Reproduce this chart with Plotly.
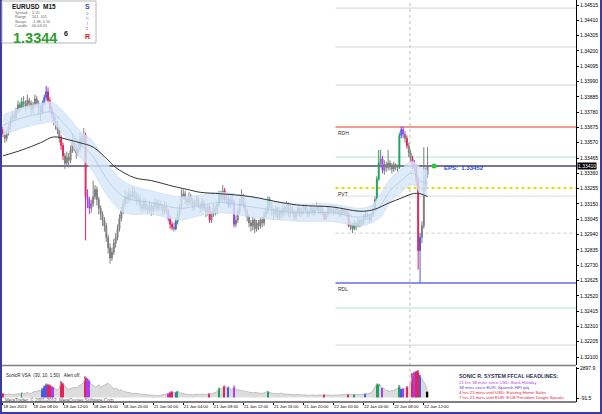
import plotly.graph_objects as go

# ---------------- DATA (prices in pips above BASE) ----------------
BASE = 1.3200
PIP = 0.0001

time_labels = ["18 Jan 2013", "18 Jan 08:00", "18 Jan 12:00", "18 Jan 16:00", "18 Jan 20:00",
               "21 Jan 00:00", "21 Jan 04:00", "21 Jan 08:00", "21 Jan 12:00", "21 Jan 16:00",
               "21 Jan 20:00", "22 Jan 00:00", "22 Jan 04:00", "22 Jan 08:00", "22 Jan 12:00"]
time_label_bars = [0, 16, 32, 48, 64, 80, 96, 112, 128, 144, 160, 176, 192, 208, 224]

open_pips = [166,163,160,164,168,172,176,174,179,183, 181,185,184,182,186,184,180,183,187,184,
             181,178,184,188,192,186,180,176,172,170, 166,160,155,148,143,147,145,152,158,154,
             150,153,160,158,162,120,118,112,115,120, 125,118,112,108,104,100,92,85,78,82,
             88,92,98,105,110,115,120,118,122,120, 124,121,117,119,114,112,116,113,111,114,
             110,113,116,112,115,113,110,114,110,105, 101,99,98,103,108,113,120,122,118,116,
             120,117,113,116,118,114,112,116,112,109, 113,104,108,112,110,115,122,118,124,118,
             119,114,118,116,101,104,110,116,120,114, 110,106,102,100,104,98,102,100,104,102,
             108,110,118,114,110,108,112,106,110,108, 112,110,114,108,112,110,106,109,112,108,
             110,113,111,108,110,112,109,111,113,110, 112,109,105,108,112,110,111,109,112,110,
             108,111,109,110,108,100,101,98,102,100, 104,101,103,106,108,106,104,107,112,118,
             132,143,146,138,142,140,143,141,139,142, 140,140,162,166,163,160,155,150,146,142,
             140,131,83,92,100,126,135]
high_pips = [168,165,166,170,175,178,179,181,186,185, 188,189,186,190,188,186,185,190,189,186,
             183,186,190,196,195,188,182,178,175,172, 168,162,157,150,151,150,155,163,160,156,
             157,164,163,167,164,125,120,118,131,128, 127,120,114,110,106,102,94,88,85,91,
             95,101,108,113,118,124,123,126,124,127, 126,123,122,121,116,119,118,115,117,116,
             116,119,118,118,117,115,117,116,112,107, 103,102,105,110,115,125,125,124,120,123,
             122,119,118,121,120,116,119,118,114,115, 114,110,115,114,117,124,124,128,126,122,
             121,120,121,118,107,112,119,125,122,116, 112,108,104,106,105,104,104,106,106,110,
             113,120,120,116,112,114,113,113,112,115, 114,117,116,114,114,111,111,114,113,112,
             115,115,112,112,114,113,113,116,114,114, 113,110,110,114,113,113,112,114,113,111,
             113,112,112,112,109,103,102,104,103,106, 105,105,108,110,109,108,109,114,120,134,
             152,152,148,145,144,152,145,143,144,143, 142,164,168,168,165,162,157,152,148,145,
             142,133,95,103,154,140,154]
low_pips = [161,157,158,162,166,171,172,173,177,178, 180,181,178,180,181,176,177,181,182,176,
            172,177,183,186,184,178,174,169,166,163, 157,152,145,139,141,140,143,150,151,146,
            148,151,154,156,90,112,108,109,113,118, 114,108,104,100,96,89,81,74,76,80,
            85,90,96,103,108,113,115,116,117,118, 118,114,115,111,109,110,110,108,109,107,
            108,111,110,110,111,107,108,108,103,98, 97,96,97,101,106,111,118,115,113,114,
            114,110,111,114,112,109,110,110,106,107, 102,102,106,107,108,113,116,116,116,115,
            112,112,114,99,99,102,108,114,112,107, 103,99,96,97,95,96,97,98,99,100,
            106,108,112,107,104,106,104,104,105,106, 107,108,106,106,108,104,104,107,106,106,
            108,109,106,106,108,107,107,110,108,108, 107,104,104,106,108,108,107,108,108,106,
            106,107,107,106,99,97,95,97,97,99, 99,100,101,104,104,102,103,106,111,117,
            131,140,136,135,137,138,138,136,137,138, 137,139,160,160,157,153,147,143,139,137,
            128,70,61,88,98,124,133]
close_pips = [163,160,164,168,172,176,174,179,183,181, 185,184,182,186,184,180,183,187,184,181,
              178,184,188,192,186,180,176,172,170,166, 160,155,148,143,147,145,152,158,154,150,
              153,160,158,162,120,118,112,115,120,125, 118,112,108,104,100,92,85,78,82,88,
              92,98,105,110,115,120,118,122,120,124, 121,117,119,114,112,116,113,111,114,110,
              113,116,112,115,113,110,114,110,105,101, 99,98,103,108,113,120,122,118,116,120,
              117,113,116,118,114,112,116,112,109,113, 104,108,112,110,115,122,118,124,118,119,
              114,118,116,101,104,110,116,120,114,110, 106,102,100,104,98,102,100,104,102,108,
              110,118,114,110,108,112,106,110,108,112, 110,114,108,112,110,106,109,112,108,110,
              113,111,108,110,112,109,111,113,110,112, 109,105,108,112,110,111,109,112,110,108,
              111,109,110,108,100,101,98,102,100,104, 101,103,106,108,106,104,107,112,118,132,
              143,146,138,142,140,143,141,139,142,140, 140,162,166,163,160,155,150,146,142,140,
              131,83,92,100,126,135,141]
tick_volume = [420,300,280,350,330,260,300,310,380,350, 450,380,420,480,400,380,520,600,560,700,
               650,900,1150,1350,1300,1250,1100,1000,800,750, 900,1600,1400,1100,900,800,850,900,1000,950,
               1050,1200,1300,1500,2050,1900,1700,1300,1200,1000, 1100,1250,1000,1100,1200,1350,1400,1200,1000,850,
               900,800,700,750,600,550,500,520,450,400, 380,420,350,300,320,280,300,260,240,220,
               180,150,200,180,220,250,300,350,420,550, 600,450,500,620,450,400,380,350,300,280,
               260,240,300,280,250,300,320,280,300,350, 400,380,420,500,550,950,800,1000,1150,900,
               1050,850,700,1150,800,750,700,650,600,550, 500,520,480,450,500,460,420,400,380,450,
               500,620,480,420,380,400,350,380,420,360, 340,320,300,330,280,260,300,280,250,240,
               220,260,240,200,220,250,230,210,260,240, 220,300,250,220,240,210,230,200,220,250,
               270,240,260,300,350,300,280,320,300,280, 260,300,320,380,350,400,450,700,1000,1350,
               1300,1100,950,850,700,650,600,700,650,800, 900,1200,850,900,800,1100,950,1300,2400,2500,
               2600,2700,2200,1800,1500,1200,580]

# VSA signal bars
vsa_red = [0, 24, 25, 31, 32, 44, 89, 90, 110, 118, 171, 184, 215, 218, 220, 221]
vsa_blue = [21, 22, 23, 92, 120, 193, 212, 222]
vsa_green = [10, 93, 115, 141, 187, 199, 200, 211]
vsa_purple = [26, 27, 45, 46, 88, 123, 202, 213, 219]

# Sonic R dragon (EMA34 high / close / low) and slow MA, sampled
dragon_idx = [0, 10, 20, 26, 31, 36, 41, 47, 52, 57, 63, 68, 79, 89, 95, 105, 116, 132, 148, 159,
              175, 190, 196, 201, 206, 212, 217, 220, 222, 226]
dragon_mid = [169, 174, 177, 178, 172, 165, 156, 149, 139, 129, 121, 118, 116, 113, 112, 114, 116, 113, 110, 109,
              109, 106, 108, 114, 124, 131, 136, 135, 131, 129]
dragon_half = [7, 7, 7, 7, 8, 8, 9, 10, 11, 11, 11, 10, 8, 8, 8, 7, 7, 7, 6, 6,
               6, 6, 6, 8, 8, 8, 8, 8, 9, 9]
ma_idx = [0, 10, 20, 27, 35, 41, 48, 56, 60, 70, 79, 91, 98, 105, 116, 132, 148, 159, 175, 190,
          197, 206, 212, 218, 222, 226]
ma_val = [148, 152, 157, 161, 159, 157, 154, 145, 140, 133, 131, 127, 125, 123, 122, 120, 116, 114, 113, 110,
          111, 116, 119, 122, 122, 120]

# daily levels (price)
level_prices = [1.34494, 1.34227, 1.33966, 1.33678, 1.33472, 1.33259, 1.33204, 1.32950, 1.32607, 1.32436, 1.32182]
level_names = ["", "", "", "RDH", "", "PVT", "", "", "RDL", "", ""]
level_start_bar = 177

bid_price = 1.33410
eps_price = "1.33452"
price_ticks = [round(1.32100 + k * 0.00105, 5) for k in range(24)]

headline_title = "SONIC R. SYSTEM FFCAL HEADLINES:"
headlines = ["21 hrs 38 mins since USD: Bank Holiday",
             "38 mins since EUR: Spanish HPI q/q",
             "4 hrs 21 mins until USD: Existing Home Sales",
             "7 hrs 21 mins until EUR: ECB President Draghi Speaks"]
headline_colors = ["#b83fd0", "#6a35e0", "#e8203a", "#e8203a"]

# ---------------- LAYOUT HELPERS ----------------
W, H = 602, 414
ML, MR, MT, MB = 2, 26, 0, 12
PW, PH = W - ML - MR, H - MT - MB
def fx(x):
    return (x - ML) / PW
def fy(y):
    return (H - MB - y) / PH

FONT = "Liberation Sans, Arial, sans-serif"
def P(v):
    return BASE + v * PIP

n = len(close_pips)
idx = list(range(n))

fig = go.Figure()

# dragon band
d_lo = [P(m - h) for m, h in zip(dragon_mid, dragon_half)]
d_hi = [P(m + h) for m, h in zip(dragon_mid, dragon_half)]
fig.add_trace(go.Scatter(x=dragon_idx, y=d_lo, mode="lines", line=dict(color="#c4dbf3", width=0.6, shape="spline"),
                         hoverinfo="skip", showlegend=False))
fig.add_trace(go.Scatter(x=dragon_idx, y=d_hi, mode="lines", line=dict(color="#c4dbf3", width=0.6, shape="spline"),
                         fill="tonexty", fillcolor="rgba(212,230,250,0.8)", hoverinfo="skip", showlegend=False))
fig.add_trace(go.Scatter(x=dragon_idx, y=[P(m) for m in dragon_mid], mode="lines",
                         line=dict(color="#a9c4e0", width=0.7, shape="spline"), hoverinfo="skip", showlegend=False))
fig.add_trace(go.Scatter(x=ma_idx, y=[P(m) for m in ma_val], mode="lines",
                         line=dict(color="#333333", width=1, shape="spline"), hoverinfo="skip", showlegend=False))

# candles by colour group
special = set(vsa_red + vsa_blue + vsa_green + vsa_purple)
groups = [([i for i in idx if i not in special], "#7e7e7e"),
          (vsa_red, "#e3245a"), (vsa_blue, "#4a5be3"), (vsa_green, "#1fa060"), (vsa_purple, "#a93cf5")]
for members, col in groups:
    fig.add_trace(go.Candlestick(
        x=members,
        open=[P(open_pips[i]) for i in members], high=[P(high_pips[i]) for i in members],
        low=[P(low_pips[i]) for i in members], close=[P(close_pips[i]) for i in members],
        increasing=dict(line=dict(color=col, width=1), fillcolor=col),
        decreasing=dict(line=dict(color=col, width=1), fillcolor=col),
        whiskerwidth=0, hoverinfo="skip", showlegend=False, xaxis="x", yaxis="y"))

# EPS dot
fig.add_trace(go.Scatter(x=[229.5], y=[bid_price], mode="markers",
                         marker=dict(color="#22cc33", size=5), showlegend=False, hoverinfo="skip"))

# volume
vcol = []
for i in idx:
    if i == n - 1:
        vcol.append("#000000")
    elif i in vsa_red:
        vcol.append("#e3245a")
    elif i in vsa_blue:
        vcol.append("#4a5be3")
    elif i in vsa_green:
        vcol.append("#1fa060")
    elif i in vsa_purple:
        vcol.append("#a93cf5")
    else:
        vcol.append("#dcdcdc")
fig.add_trace(go.Bar(x=idx, y=tick_volume, marker=dict(color=vcol, line=dict(width=0)),
                     xaxis="x", yaxis="y2", showlegend=False, hoverinfo="skip"))
fig.add_trace(go.Scatter(x=idx, y=tick_volume, mode="lines", line=dict(color="#b4b4b4", width=0.8),
                         xaxis="x", yaxis="y2", showlegend=False, hoverinfo="skip"))

shapes = []
# level lines
level_styles = {
    0: ("#d4d4d4", 1, "solid"), 1: ("#d4d4d4", 1, "solid"), 2: ("#d4d4d4", 1, "solid"),
    3: ("#f07a6a", 1.5, "solid"), 4: ("#aee6cc", 1, "solid"), 5: ("#e6e000", 2, "dot"),
    6: ("#dcdcdc", 1, "solid"), 7: ("#c8c8dc", 1, "dot"), 8: ("#8f90ee", 2, "solid"),
    9: ("#aee6cc", 1, "solid"), 10: ("#d4d4d4", 1, "solid")}
for k, lp in enumerate(level_prices):
    c, w, d = level_styles[k]
    shapes.append(dict(type="line", xref="x", yref="y", x0=level_start_bar, x1=305, y0=lp, y1=lp,
                       line=dict(color=c, width=w, dash=d), layer="below"))
# bid line
shapes.append(dict(type="line", xref="paper", yref="y", x0=0, x1=1, y0=bid_price, y1=bid_price,
                   line=dict(color="#4b4b72", width=1.6), layer="below"))
# vertical separator
shapes.append(dict(type="line", xref="x", yref="paper", x0=216.6, x1=216.6, y0=0, y1=1,
                   line=dict(color="#bbbbbb", width=1, dash="dot"), layer="below"))
# panel separator and frame
shapes.append(dict(type="line", xref="paper", yref="paper", x0=0, x1=1, y0=fy(365.5), y1=fy(365.5),
                   line=dict(color="#808080", width=1.5)))
shapes.append(dict(type="line", xref="paper", yref="paper", x0=0, x1=1, y0=fy(402), y1=fy(402),
                   line=dict(color="#000000", width=1)))
shapes.append(dict(type="line", xref="paper", yref="paper", x0=fx(1), x1=fx(1), y0=fy(414), y1=fy(0),
                   line=dict(color="#3a3aa0", width=2)))
shapes.append(dict(type="line", xref="paper", yref="paper", x0=fx(0), x1=fx(602), y0=fy(413), y1=fy(413),
                   line=dict(color="#3a3aa0", width=2)))
shapes.append(dict(type="line", xref="paper", yref="paper", x0=fx(601), x1=fx(601), y0=fy(414), y1=fy(0),
                   line=dict(color="#3a3aa0", width=2)))
# info box
shapes.append(dict(type="rect", xref="paper", yref="paper", x0=fx(2), x1=fx(96), y0=fy(43), y1=fy(1),
                   fillcolor="white", line=dict(color="#b8b8b8", width=1)))

ann = []
def A(x, y, text, size=5, color="#000000", bold=False, xanchor="left", **kw):
    t = "<b>%s</b>" % text if bold else text
    d = dict(xref="paper", yref="paper", x=fx(x), y=fy(y), text=t, showarrow=False,
             xanchor=xanchor, yanchor="middle", font=dict(family=FONT, size=size, color=color))
    d.update(kw)
    ann.append(d)

# info panel
A(10, 6.5, "EURUSD&nbsp;&nbsp;M15", 6.5, "#111111", True)
for j, (lab, val) in enumerate([("Spread", "1.50"), ("Range", "101, 105"), ("Swaps", "-1.38, 0.50"), ("Candle", "00:04:20")]):
    A(13, 13 + j * 4.3, lab, 3.8, "#666666")
    A(30, 13 + j * 4.3, val, 3.8, "#666666")
A(11, 37.5, "1.3344", 14.5, "#2e9e2e", True)
A(62, 34, "6", 7, "#111111", True)
for ch, yy, col, sz, b in [("S", 6, "#3a48d8", 7, True), ("o", 14, "#7a8ad8", 4.5, False),
                           ("n", 19, "#7a8ad8", 4.5, False), ("i", 24, "#c060a0", 4.5, False),
                           ("c", 29, "#d04080", 4.5, False), ("R", 37, "#e02020", 7, True)]:
    A(87, yy, ch, sz, col, b, xanchor="center")

# level labels
for lp, name in zip(level_prices, level_names):
    if name:
        ann.append(dict(xref="x", yref="y", x=level_start_bar, y=lp, text=name, showarrow=False,
                        xanchor="left", yanchor="top", yshift=-1,
                        font=dict(family=FONT, size=5, color="#333333")))
# EPS label
ann.append(dict(xref="x", yref="y", x=233.5, y=bid_price, text="<b>EPS:&nbsp;&nbsp;%s</b>" % eps_price,
                showarrow=False, xanchor="left", yanchor="middle", yshift=-2,
                font=dict(family=FONT, size=6, color="#2a44d8")))
# bid label on axis
ann.append(dict(xref="paper", yref="y", x=fx(577), y=bid_price, text="1.33410", showarrow=False,
                xanchor="left", yanchor="middle", bgcolor="#000000", borderpad=0,
                font=dict(family=FONT, size=5, color="#ffffff")))
# indicator / copyright
A(4, 375, "SonicR VSA&nbsp;&nbsp;(30, 10, 1.50)&nbsp;&nbsp;&nbsp;Alert off.", 4.5, "#222222")
A(3, 399.5, "MetaTrader, © 2001-2012, MetaQuotes Software Corp.", 4.5, "#555555")
# headlines
A(457, 376, headline_title, 5.3, "#303050", True)
for j, (txt, col) in enumerate(zip(headlines, headline_colors)):
    A(457, 382.5 + j * 5, txt, 4.3, col)

fig.update_layout(
    width=W, height=H, margin=dict(l=ML, r=MR, t=MT, b=MB, autoexpand=False),
    paper_bgcolor="white", plot_bgcolor="white",
    showlegend=False, shapes=shapes, annotations=ann,
    bargap=0.25,
    xaxis=dict(domain=[0, 1], range=[-0.5, 305], anchor="y2", rangeslider=dict(visible=False),
               tickmode="array", tickvals=time_label_bars, ticktext=time_labels, tickangle=0,
               automargin=False,
               ticks="outside", ticklen=2, tickcolor="#000000", ticklabelposition="outside right",
               tickfont=dict(family=FONT, size=4.2, color="#000000"), showgrid=False, zeroline=False,
               showline=False),
    yaxis=dict(domain=[fy(365), 1], range=[1.320451, 1.345493], side="right", anchor="x",
               automargin=False,
               tickmode="array", tickvals=price_ticks, ticktext=["%.5f" % v for v in price_ticks],
               ticks="outside", ticklen=2, tickcolor="#000000",
               tickfont=dict(family=FONT, size=5, color="#000000"), showgrid=False, zeroline=False,
               showline=True, linecolor="#000000", linewidth=1),
    yaxis2=dict(domain=[0, fy(367)], range=[-450, 3000], side="right", anchor="x",
                automargin=False,
                tickmode="array", tickvals=[2897.9, -91.5], ticktext=["2897.9", "-91.5"],
                ticks="outside", ticklen=2, tickcolor="#000000",
                tickfont=dict(family=FONT, size=5, color="#000000"), showgrid=False, zeroline=False,
                showline=True, linecolor="#000000", linewidth=1),
)

fig.write_html("out.html")
